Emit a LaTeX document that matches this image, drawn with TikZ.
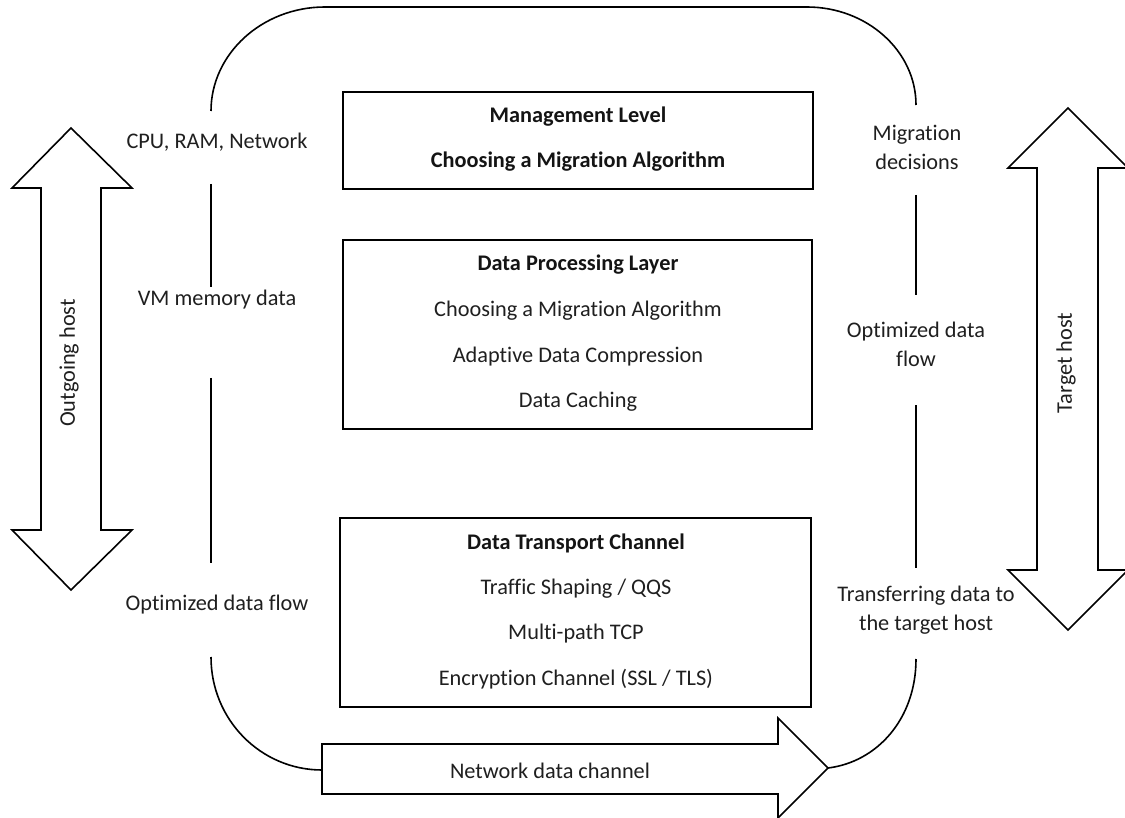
\documentclass[tikz,border=0pt]{standalone}
\usepackage{fontspec}
\setmainfont{Carlito}[Ligatures=NoCommon]
\begin{document}
\begin{tikzpicture}[x=1pt,y=-1pt,
  line/.style={line width=1.6pt,black},
  bigarrow/.style={line width=1.6pt,black,fill=white,line join=miter},
  lbl/.style={font=\fontsize{22.3}{29}\selectfont,text=black!88,align=center,inner sep=0pt,yshift=-2pt},
  blbl/.style={font=\fontsize{22.3}{29}\selectfont\bfseries,text=black!92,align=center,inner sep=0pt,yshift=-2pt}]
\useasboundingbox (0,0) rectangle (1125,818);

% boxes
\draw[line width=1.8pt] (343,92) rectangle (813,189);
\node[blbl] (ml) at (578,115) {Management Level};
\node[blbl] (ma) at (578,160) {Choosing a Migration Algorithm};

\draw[line width=1.8pt] (343,240) rectangle (812,429);
\node[blbl] (dp) at (578,263) {Data Processing Layer};
\node[lbl] (dp1) at (578,309) {Choosing a Migration Algorithm};
\node[lbl] (dp2) at (578,355) {Adaptive Data Compression};
\node[lbl] (dp3) at (578,400) {Data Caching};

\draw[line width=1.8pt] (340,518) rectangle (811,707);
\node[blbl] (dt) at (576,541) {Data Transport Channel};
\node[lbl] (dt1) at (576,587) {Traffic Shaping / QQS};
\node[lbl] (dt2) at (576,632) {Multi-path TCP};
\node[lbl] (dt3) at (576,677) {Encryption Channel (SSL / TLS)};

% left labels
\node[lbl] (cpu) at (217,140) {CPU, RAM, Network};
\node[lbl] (vm) at (217,298) {VM memory data};
\node[lbl] (odl) at (217,603) {Optimized data flow};
% right labels
\node[lbl] (md) at (917,145) {Migration\\decisions};
\node[lbl] (odr) at (916,342) {Optimized data\\flow};
\node[lbl] (tr) at (926,608) {Transferring data to\\the target host};

% loop coordinates
\coordinate (a1) at (211,111);
\coordinate (a2) at (916,105);
\coordinate (l1) at (211,184);
\coordinate (l2) at (211,287);
\coordinate (l3) at (211,378);
\coordinate (l4) at (211,563);
\coordinate (l5) at (211,657);
\coordinate (r1) at (916,195);
\coordinate (r2) at (916,295);
\coordinate (r3) at (916,405);
\coordinate (r4) at (916,568);
\coordinate (r5) at (916,659);

\draw[line] (a1) .. controls (211,54) and (262,7) .. (325,7) -- (807,7)
  .. controls (867,7) and (916,51) .. (a2);
\draw[line] (l1) -- (l2);
\draw[line] (l3) -- (l4);
\draw[line] (r1) -- (r2);
\draw[line] (r3) -- (r4);

% bottom arrow
\draw[bigarrow] (322,744) -- (778,744) -- (778,718) -- (828,768) -- (778,818) -- (778,794) -- (322,794) -- cycle;
\coordinate (bt) at (828,768);
\coordinate (bl) at (322,770);
\node[lbl] (ndc) at (550,769) {Network data channel};
\draw[line] (l5) .. controls (211,720) and (261,770) .. (bl);
\draw[line] (r5) .. controls (916,719) and (877,762) .. (bt);

% left double arrow
\draw[bigarrow] (71,128) -- (132,188) -- (101,188) -- (101,530) -- (132,530) -- (71,590)
  -- (12,530) -- (41,530) -- (41,188) -- (12,188) -- cycle;
\node[lbl,rotate=90,yshift=2pt,xshift=-2pt] (out) at (71,359) {Outgoing host};

% right double arrow
\draw[bigarrow] (1068,108) -- (1128,168) -- (1098,168) -- (1098,570) -- (1128,570) -- (1068,630)
  -- (1008,570) -- (1037,570) -- (1037,168) -- (1008,168) -- cycle;
\node[lbl,rotate=90,yshift=2pt,xshift=-2pt] (tgt) at (1068,359) {Target host};
\end{tikzpicture}
\end{document}
